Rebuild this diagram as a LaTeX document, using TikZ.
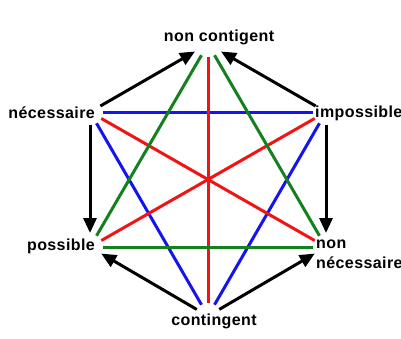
\documentclass[tikz,border=0pt]{standalone}
\usepackage{fontspec}
\setmainfont{Liberation Sans}[LetterSpace=2.5]
\usetikzlibrary{arrows.meta}
\definecolor{lred}{RGB}{240,20,20}
\definecolor{lgreen}{RGB}{20,128,30}
\definecolor{lblue}{RGB}{20,20,240}
\tikzset{
  lbl/.style={font=\fontsize{16}{19.5}\selectfont\bfseries, inner sep=0pt},
  cl/.style={line width=3pt, shorten <=13pt, shorten >=13pt},
  arr/.style={line width=3pt, -{Triangle[length=15pt,width=13pt]}}
}
\begin{document}
\begin{tikzpicture}[x=1pt,y=-1pt]
\useasboundingbox[fill=white] (0,0) rectangle (401,338);
\coordinate (T) at (208,44);
\coordinate (B) at (208,316);
\coordinate (NL) at (90,112);
\coordinate (NR) at (326,112);
\coordinate (SL) at (90,247);
\coordinate (SR) at (326,247);
% coloured lines
\draw[cl,lblue] (NL) -- (NR);
\draw[cl,lblue] (NL) -- (B);
\draw[cl,lblue] (NR) -- (B);
\draw[cl,lred] (NL) -- (SR);
\draw[cl,lred] (NR) -- (SL);
\draw[cl,lred] (T) -- (B);
\draw[cl,lgreen] (T) -- (SL);
\draw[cl,lgreen] (T) -- (SR);
\draw[cl,lgreen] (SL) -- (SR);
% arrows
\draw[arr, shorten <=12pt, shorten >=15pt] (NL) -- (T);
\draw[arr, shorten <=12pt, shorten >=15pt] (NR) -- (T);
\draw[arr, shorten <=13pt, shorten >=14pt] (NL) -- (SL);
\draw[arr, shorten <=13pt, shorten >=14pt] (NR) -- (SR);
\draw[arr, shorten <=13pt, shorten >=13pt] (B) -- (SL);
\draw[arr, shorten <=13pt, shorten >=13pt] (B) -- (SR);
% labels
\node[lbl] (lT) at (219,37) {non contigent};
\node[lbl, anchor=east] (lNL) at (95,113) {nécessaire};
\node[lbl, anchor=west] (lNR) at (315,113) {impossible};
\node[lbl, anchor=east] (lSL) at (95,246) {possible};
\node[lbl, anchor=north west, align=left] (lSR) at (316,240) {non\\nécessaire};
\node[lbl] (lB) at (214,321) {contingent};
\end{tikzpicture}
\end{document}
